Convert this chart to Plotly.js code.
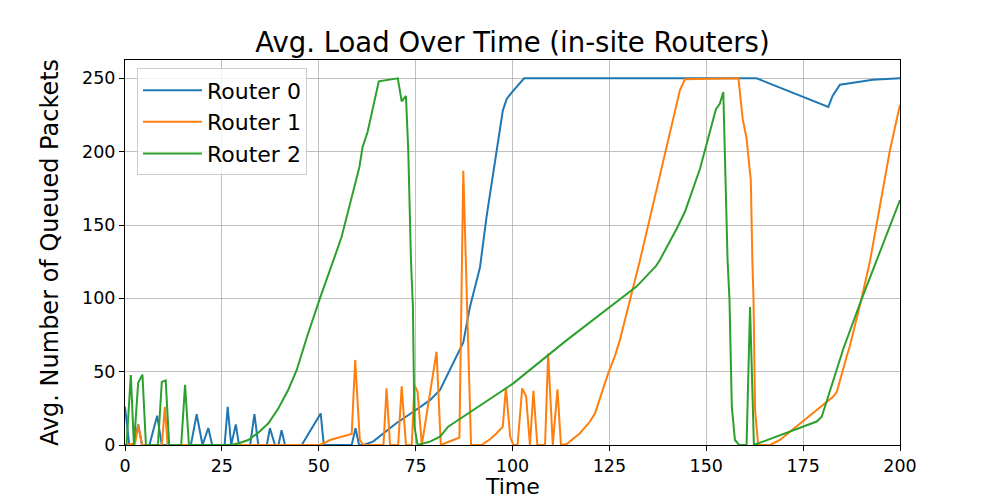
<!DOCTYPE html>
<html>
<head>
<meta charset="utf-8">
<script src="https://cdn.plot.ly/plotly-3.0.1.min.js"></script>
<style>html,body{margin:0;padding:0;background:#fff;}#chart{width:1000px;height:500px;}</style>
</head>
<body>
<div id="chart"></div>
<script>
const seriesNames = ["Router 0", "Router 1", "Router 2"];
const seriesColors = ["#1f77b4", "#ff7f0e", "#2ca02c"];

const r0Time = [0, 1.1, 2.3, 3.4, 4.4, 6.3, 8.3, 9.5, 17, 18.5, 20, 21.5, 22.5, 25.7, 26.5, 27.4, 28.6, 29.4, 32.3, 33.4, 34.4, 36.6, 37.4, 38.7, 39.6, 40.4, 41.3, 45.6, 50.5, 51.3, 58.5, 59.5, 60.4, 61.5, 64, 66.7, 70, 74.4, 78.7, 81.3, 84, 87.3, 89, 91.6, 93.3, 95.9, 97.5, 98.5, 100, 103, 163, 181.5, 182.6, 184.5, 193, 200];
const r0Load = [26, 0, 0, 14, 0, 0, 20, 0, 0, 21, 0, 11.6, 0, 0, 26, 0, 14, 0, 0, 21, 0, 0, 11.5, 0, 0, 10, 0, 0, 21.5, 0, 0, 11.4, 0, 0, 2.3, 8, 14.8, 22.7, 30.6, 37.5, 52, 70, 94, 121, 155.5, 201, 228, 236, 241, 250, 250, 230.5, 238, 245.7, 249, 250];

const r1Time = [0, 2, 2.6, 3.4, 4.4, 9.5, 10.3, 11, 50, 51.2, 52.9, 58.5, 59.4, 60.6, 61.5, 66.7, 67.5, 68.4, 70.5, 71.4, 72.5, 74, 74.7, 75.5, 76.6, 80.4, 81.5, 85.2, 86.3, 87.3, 89.3, 92, 94.2, 95.9, 97.5, 98.3, 99.4, 100.2, 101.3, 102.5, 103.5, 104.5, 105.4, 106.4, 108.4, 109.2, 110.4, 111.6, 112.5, 114, 117.4, 120, 121.3, 124.7, 126.5, 127.7, 129.3, 132.9, 143.2, 144.5, 158.3, 159.4, 160.4, 161.5, 161.9, 162.2, 162.6, 163.4, 166.5, 169, 182.8, 183.7, 186.2, 187, 190, 192.3, 197.4, 198.5, 199.5, 200];
const r1Load = [0, 1, 1, 13.6, 0, 0, 26, 0, 0, 1, 3.4, 7.5, 58, 3.4, 0, 0, 38.6, 0, 0, 40, 0, 0, 41, 36.3, 0, 63.6, 0, 3.9, 5, 187, 0, 0, 3.9, 8, 12.5, 39.3, 5.7, 0, 0, 38.6, 33.4, 0, 37, 0, 0, 62.4, 0, 38, 0, 0.7, 8, 16, 21.6, 48.8, 61.3, 71.5, 88, 126, 241.8, 249.3, 250, 222.5, 209, 180.5, 126, 98.8, 23.8, 0, 0, 3.4, 33, 36.3, 60, 67, 98.8, 126, 201, 213.4, 226, 232];

const r2Time = [0, 0.4, 1.5, 2.3, 3.4, 4.5, 5.4, 8.5, 9.5, 10.5, 11.4, 14.5, 15.5, 16.5, 27, 29.2, 31.8, 34.4, 37, 39.6, 42.1, 44.3, 47, 50.3, 53.8, 55.9, 60.5, 61.3, 62.6, 65.5, 70.4, 71.4, 72.5, 73.1, 73.8, 74.3, 74.7, 75.5, 78.7, 81.3, 83.4, 91.6, 100.2, 114, 132, 137, 138, 142.4, 144.5, 148.4, 152.5, 153.5, 154.4, 155.5, 156, 156.6, 157.4, 158.5, 160.4, 161.3, 162.3, 163.9, 178.5, 179.8, 185.4, 190, 200];
const r2Load = [0, 0, 47.7, 0, 42.4, 48, 0, 0, 43, 44, 0, 0, 41, 0, 0, 1, 3.4, 8.4, 14.8, 25, 37.5, 51, 74, 100, 126, 142, 189.6, 203, 213.4, 248, 250, 234.3, 238, 201, 126, 94, 12.5, 0, 2.3, 5.7, 12.5, 27, 42, 71.5, 108, 122, 126, 147.6, 159, 188.5, 229, 232.7, 240.7, 126, 98.8, 26, 3.4, 0, 0, 94, 0, 1.6, 16, 19.3, 65.8, 98.8, 167];

const xTicks = [0, 25, 50, 75, 100, 125, 150, 175, 200];
const yTicks = [0, 50, 100, 150, 200, 250];

const times = [r0Time, r1Time, r2Time];
const loads = [r0Load, r1Load, r2Load];

const traces = seriesNames.map((name, i) => ({
  x: times[i], y: loads[i], type: "scatter", mode: "lines", name: name,
  legendgroup: "g" + i,
  line: {color: seriesColors[i], width: 2}
}));

const font = "DejaVu Sans, sans-serif";
const layout = {
  width: 1000, height: 500,
  margin: {l: 125, r: 100, t: 60, b: 55},
  paper_bgcolor: "#fff", plot_bgcolor: "#fff",
  font: {family: font, color: "#000", size: 17.5},
  title: {text: "Avg. Load Over Time (in-site Routers)", font: {family: font, size: 27.5, color: "#000"},
          x: 0.5125, xanchor: "center", y: 0.916, yanchor: "middle"},
  showlegend: true,
  legend: {x: 0.0155, y: 0.978, xanchor: "left", yanchor: "top",
           bgcolor: "rgba(255,255,255,0.8)", bordercolor: "#cccccc", borderwidth: 1,
           itemwidth: 59,
           font: {family: font, size: 22, color: "#000"}, tracegroupgap: 0},
  xaxis: {range: [0, 200], tickvals: xTicks, ticktext: xTicks.map(String),
          showgrid: true, gridcolor: "#b0b0b0", gridwidth: 0.8,
          showline: true, linecolor: "#000", linewidth: 1, mirror: true,
          ticks: "outside", ticklen: 5, tickcolor: "#000", zeroline: false,
          tickfont: {family: font, size: 17.5}},
  yaxis: {range: [0, 262.5], tickvals: yTicks, ticktext: yTicks.map(String),
          showgrid: true, gridcolor: "#b0b0b0", gridwidth: 0.8,
          showline: true, linecolor: "#000", linewidth: 1, mirror: true,
          ticks: "outside", ticklen: 5, tickcolor: "#000", zeroline: false,
          tickfont: {family: font, size: 17.5},
          title: {text: "Avg. Number of Queued Packets", font: {family: font, size: 24}, standoff: 16}},
  annotations: [{text: "Time", xref: "paper", yref: "paper", x: 0.5, y: -0.1065,
                 xanchor: "center", yanchor: "middle", showarrow: false,
                 font: {family: font, size: 22, color: "#000"}}]
};

Plotly.newPlot("chart", traces, layout, {displayModeBar: false, staticPlot: true});
</script>
</body>
</html>
